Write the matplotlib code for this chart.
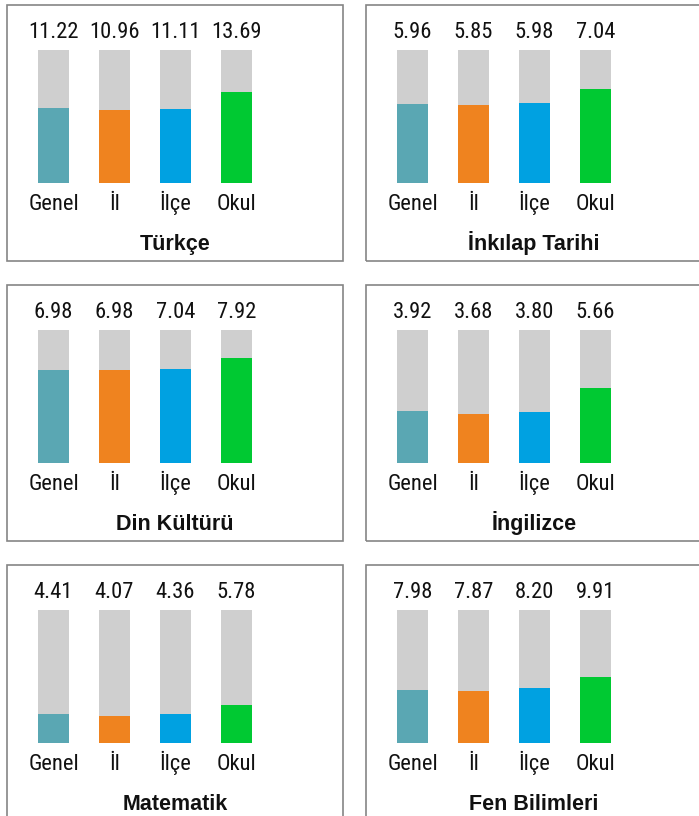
import matplotlib
matplotlib.use('Agg')
import matplotlib.pyplot as plt
from matplotlib.patches import Rectangle

subjects = ['Türkçe', 'İnkılap Tarihi', 'Din Kültürü', 'İngilizce', 'Matematik', 'Fen Bilimleri']
max_scores = [20, 10, 10, 10, 20, 20]
groups = ['Genel', 'İl', 'İlçe', 'Okul']
genel = [11.22, 5.96, 6.98, 3.92, 4.41, 7.98]
il = [10.96, 5.85, 6.98, 3.68, 4.07, 7.87]
ilce = [11.11, 5.98, 7.04, 3.80, 4.36, 8.20]
okul = [13.69, 7.04, 7.92, 5.66, 5.78, 9.91]

colors = ['#5aa7b3', '#ef831f', '#00a1e1', '#00c932']
bg_color = '#cfcfcf'
narrow = ['Roboto Condensed', 'DejaVu Sans']
bold = ['Liberation Sans', 'DejaVu Sans']

W, H = 699, 816
fig = plt.figure(figsize=(W / 100, H / 100), dpi=100)

for k, subj in enumerate(subjects):
    r, c = divmod(k, 2)
    x0 = 7 + 359 * c
    y0 = 5 + 280 * r
    fig.patches.append(Rectangle((x0 / W, 1 - (y0 + 256) / H), 336 / W, 256 / H,
                                 transform=fig.transFigure, fill=False,
                                 ec='#858585', lw=1.2))
    ax = fig.add_axes([x0 / W, 1 - (y0 + 178) / H, 336 / W, 133 / H])
    ax.set_xlim(-0.762, -0.762 + 336 / 61)
    mx = max_scores[k]
    ax.set_ylim(0, mx)
    ax.axis('off')
    vals = [genel[k], il[k], ilce[k], okul[k]]
    xs = list(range(len(groups)))
    ax.bar(xs, [mx] * 4, width=31 / 61, color=bg_color, linewidth=0)
    ax.bar(xs, vals, width=31 / 61, color=colors, linewidth=0)
    for i, (v, g) in enumerate(zip(vals, groups)):
        ax.annotate(f'{v:.2f}', xy=(i, mx), xytext=(0, 12), textcoords='offset pixels',
                    ha='center', va='baseline', fontsize=16.2, family=narrow,
                    color='#111111', annotation_clip=False)
        ax.annotate(g, xy=(i, 0), xytext=(0, -27), textcoords='offset pixels',
                    ha='center', va='baseline', fontsize=16.2, family=narrow,
                    color='#111111', annotation_clip=False)
    fig.text((x0 + 168) / W, 1 - (y0 + 245) / H, subj, ha='center', va='baseline',
             fontsize=15.5, fontweight='bold', family=bold, color='#111111')

fig.savefig('out.png', dpi=100)
